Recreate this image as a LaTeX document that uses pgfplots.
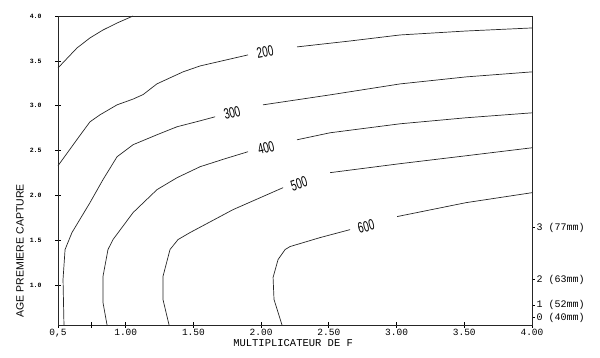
\documentclass[border=0pt]{standalone}
\usepackage{pgfplots}
\pgfplotsset{compat=1.18}
\usepackage{graphicx}
\usepackage{fontspec}
\setmainfont{Liberation Sans}
\newfontfamily\monof{Liberation Mono}
\newcommand{\clab}[1]{\scalebox{0.66}[1]{\fontsize{15}{15}\selectfont #1}}

\begin{document}
\begin{tikzpicture}
\pgfplotsset{
  common/.style={scale only axis, width=474pt, height=309pt,
    xmin=0.5, xmax=4, ymin=0.56, ymax=4, clip=false}
}
\begin{axis}[common,
  axis line style={line width=0.9pt, black!85},
  xtick={0.5,1,1.5,2,2.5,3,3.5,4},
  xticklabels={{0,5},1.00,1.50,2.00,2.50,3.00,3.50,4.00},
  extra x ticks={0.75}, extra x tick labels={},
  ytick={1,1.5,2,2.5,3,3.5,4},
  yticklabels={1.0,1.5,2.0,2.5,3.0,3.5,4.0},
  xtick pos=bottom, ytick pos=left,
  tick align=center, major tick length=6pt,
  tick style={black, line width=0.8pt},
  x tick label style={font=\monof\fontsize{9.5}{10}\selectfont, yshift=2pt},
  y tick label style={font=\monof\bfseries\fontsize{6.5}{7}\selectfont, xshift=-10pt},
]
% contour 100
\addplot[black!85, line width=0.7pt] coordinates {(0.5,3.422) (0.640,3.644) (0.736,3.756) (0.832,3.844) (0.936,3.922) (1.054,4.0)};
% contour 200
\addplot[black!85, line width=0.7pt] coordinates {(0.5,2.333) (0.655,2.656) (0.736,2.822) (0.810,2.9) (0.936,3.011) (1.054,3.075) (1.128,3.125) (1.231,3.245) (1.423,3.378) (1.549,3.444) (1.903,3.567)};
\addplot[black!85, line width=0.7pt] coordinates {(2.265,3.656) (2.657,3.722) (3.026,3.789) (3.513,3.833) (4.0,3.867)};
% contour 300
\addplot[black!85, line width=0.7pt] coordinates {(0.544,0.56) (0.537,1.067) (0.552,1.4) (0.603,1.589) (0.736,1.922) (0.832,2.178) (0.936,2.433) (1.054,2.567) (1.231,2.678) (1.379,2.767) (1.549,2.833) (1.660,2.878)};
\addplot[black!85, line width=0.7pt] coordinates {(2.014,3.011) (2.509,3.122) (3.026,3.244) (3.513,3.322) (4.0,3.378)};
% contour 400
\addplot[black!85, line width=0.7pt] coordinates {(0.862,0.56) (0.832,0.811) (0.832,1.1) (0.869,1.4) (0.906,1.511) (1.054,1.811) (1.231,2.067) (1.379,2.2) (1.549,2.322) (1.733,2.411) (1.903,2.489)};
\addplot[black!85, line width=0.7pt] coordinates {(2.265,2.622) (2.509,2.7) (3.026,2.8) (3.513,2.867) (4.0,2.922)};
% contour 500
\addplot[black!85, line width=0.7pt] coordinates {(1.320,0.56) (1.275,0.844) (1.275,1.1) (1.327,1.4) (1.386,1.511) (1.475,1.589) (1.792,1.844) (2.162,2.089)};
\addplot[black!85, line width=0.7pt] coordinates {(2.509,2.256) (3.026,2.356) (3.513,2.444) (4.0,2.533)};
% contour 600
\addplot[black!85, line width=0.7pt] coordinates {(2.154,0.56) (2.095,0.844) (2.088,1.089) (2.125,1.289) (2.177,1.4) (2.213,1.433) (2.435,1.533) (2.657,1.622)};
\addplot[black!85, line width=0.7pt] coordinates {(3.004,1.767) (3.513,1.922) (4.0,2.033)};
% contour labels
\node[rotate=11] at (axis cs:2.029,3.600) {\clab{200}};
\node[rotate=14] at (axis cs:1.785,2.922) {\clab{300}};
\node[rotate=14] at (axis cs:2.036,2.533) {\clab{400}};
\node[rotate=17] at (axis cs:2.280,2.133) {\clab{500}};
\node[rotate=15] at (axis cs:2.775,1.656) {\clab{600}};
% axis titles
\node[rotate=90, font=\fontsize{10.5}{11}\selectfont] at (rel axis cs:-0.080,0.24) {AGE PREMIERE CAPTURE};
\node[font=\monof\fontsize{10.5}{11}\selectfont] at (rel axis cs:0.496,-0.058) {MULTIPLICATEUR DE F};
% bounding box
\path (rel axis cs:-0.1224,-0.1036) rectangle (rel axis cs:1.1435,1.0518);
\end{axis}
\begin{axis}[common,
  axis x line=none, axis y line*=right,
  axis line style={line width=0.9pt, black!85},
  ytick={0.644,0.778,1.067,1.644},
  yticklabels={0 (40mm),1 (52mm),2 (63mm),3 (77mm)},
  tick align=outside, major tick length=3pt,
  tick style={black, line width=0.8pt},
  y tick label style={font=\monof\fontsize{10}{10}\selectfont, xshift=-2pt},
]
\end{axis}
\end{tikzpicture}
\end{document}
